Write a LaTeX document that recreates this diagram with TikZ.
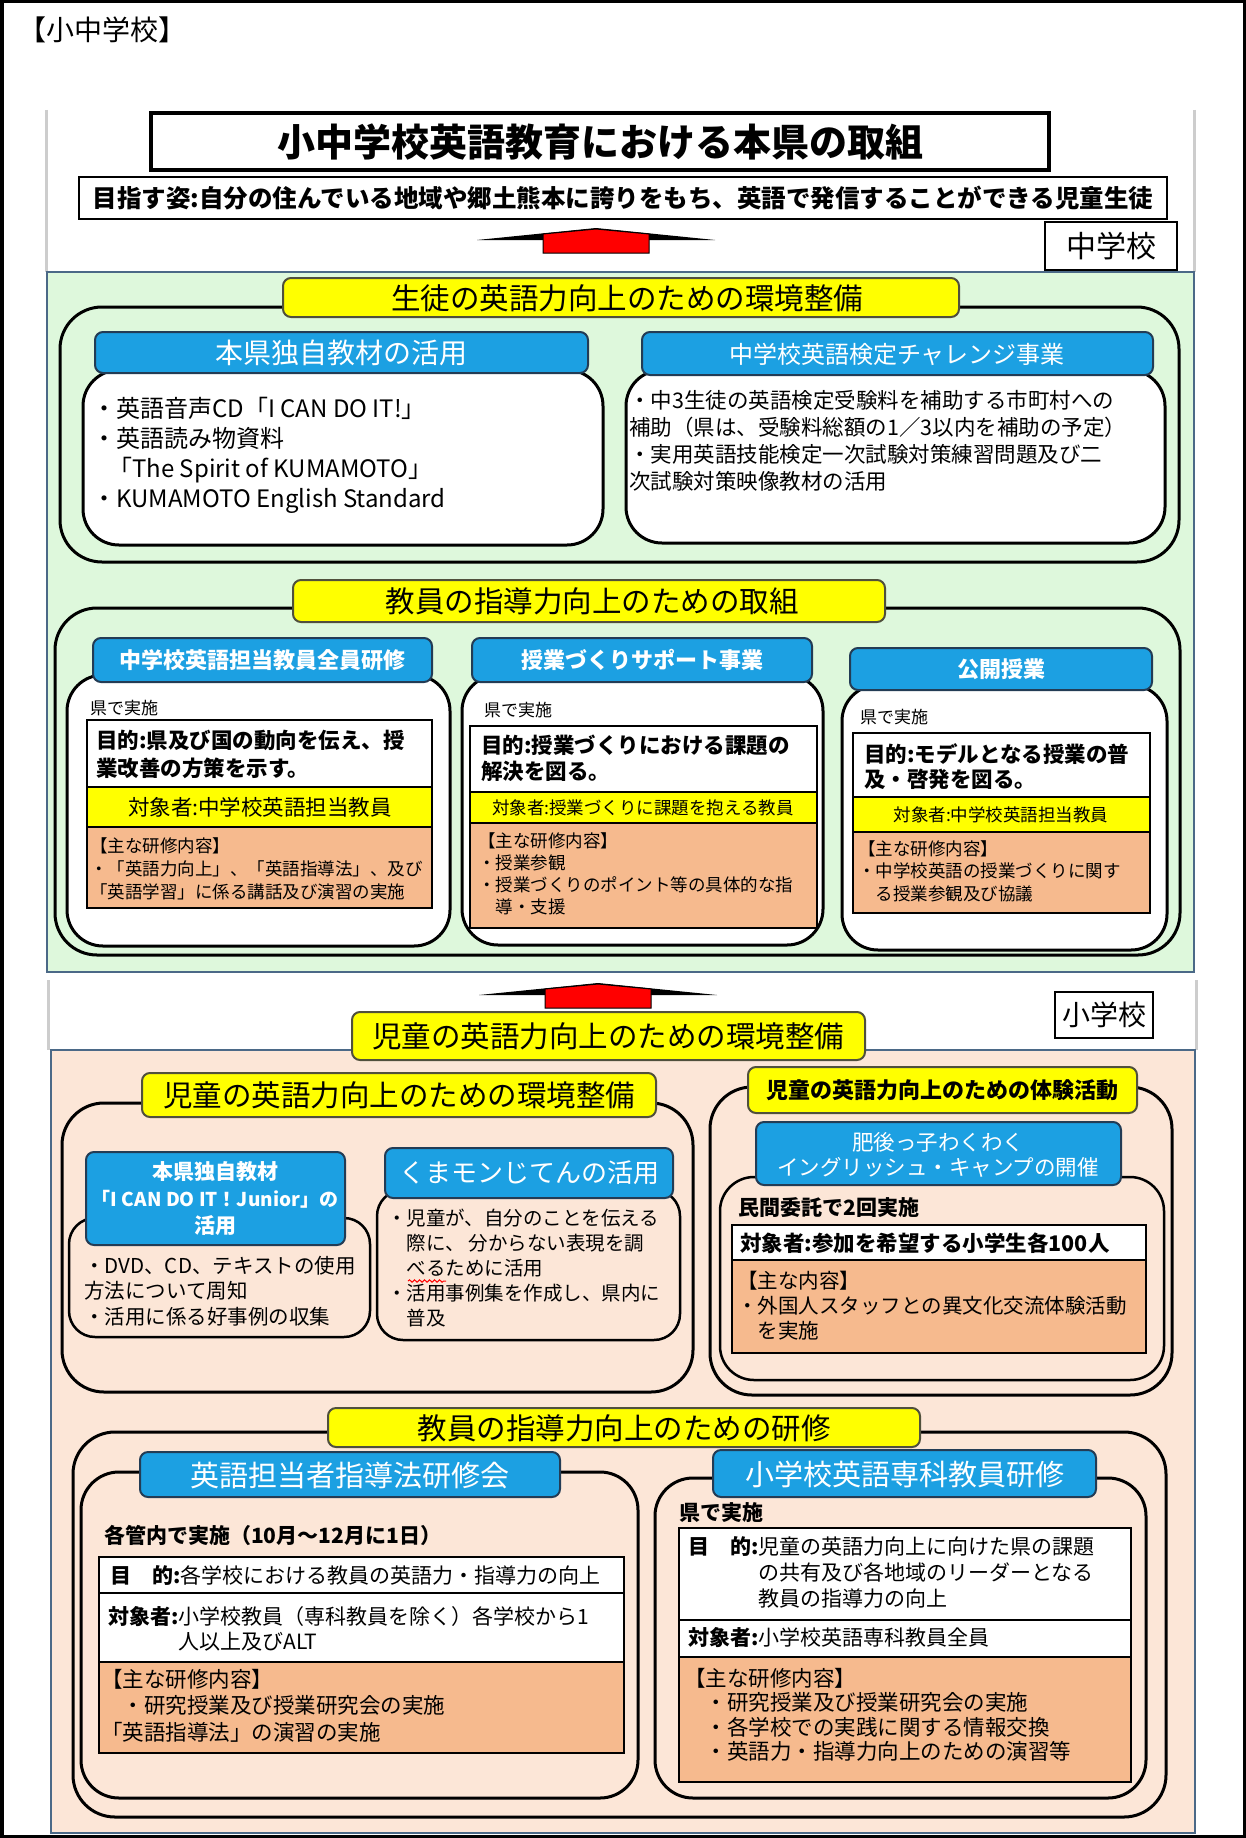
\documentclass[tikz,border=0pt]{standalone}
\usepackage{fontspec}
\setmainfont{Noto Sans CJK JP}
\usetikzlibrary{decorations.pathmorphing}

\definecolor{cTab}{RGB}{28,160,226}
\definecolor{cTabEdge}{RGB}{35,60,85}
\definecolor{cYel}{RGB}{255,255,0}
\definecolor{cYelEdge}{RGB}{80,80,60}
\definecolor{cGreen}{RGB}{222,248,220}
\definecolor{cPeach}{RGB}{252,230,215}
\definecolor{cSalmon}{RGB}{246,186,142}
\definecolor{cZone}{RGB}{75,105,135}
\definecolor{cGray}{RGB}{205,205,205}

\newcommand{\fsz}[2]{\fontsize{#1}{#2}\selectfont}

\tikzset{
  zone/.style={draw=cZone, line width=2.5pt},
  ring/.style={draw=black, line width=3pt, rounded corners=42pt},
  panel/.style={draw=black, line width=3pt, rounded corners=36pt, fill=white},
  subbox/.style={draw=black, line width=2.5pt, rounded corners=26pt},
  bluetab/.style={draw=cTabEdge, fill=cTab, line width=2pt, rounded corners=8pt},
  yhead/.style={draw=cYelEdge, fill=cYel, line width=2pt, rounded corners=8pt},
  whitebox/.style={draw=black, line width=2.5pt, fill=white},
  target/.style={draw=black, line width=2.5pt, fill=cYel},
  detail/.style={draw=black, line width=2pt, fill=cSalmon},
  txt/.style={inner sep=0pt, align=left},
  tabtxt/.style={inner sep=0pt, text=white, align=center},
  redup/.pic={
    \path[fill=black] (-119,12) -- (0,0) -- (119,12) -- cycle;
    \path[draw=black, line width=1pt, fill=red] (-53,25) -- (-53,6) -- (0,1) -- (53,6) -- (53,25) -- cycle;
  }
}

\begin{document}
\begin{tikzpicture}[x=1pt,y=-1pt]
\useasboundingbox (0,0) rectangle (1246,1838);
\path[fill=white] (0,0) rectangle (1246,1838);

% top
\node[txt, anchor=west, font={\fsz{28}{32}}] (cap) at (18,30) {【小中学校】};
\path[draw=cGray, line width=3pt] (46,110) -- (46,272);
\path[draw=cGray, line width=3pt] (1194,110) -- (1194,272);
\path[draw=black, line width=3.5pt, fill=white] (151,113) rectangle (1049,170);
\node[txt, font={\fsz{38}{44}\bfseries}] (title) at (600,142) {小中学校英語教育における本県の取組};
\path[draw=black, line width=2.5pt, fill=white] (79,177) rectangle (1167,219);
\node[txt, font={\fsz{24.5}{30}\bfseries}] (goal) at (623,198) {目指す姿:自分の住んでいる地域や郷土熊本に誇りをもち、英語で発信することができる児童生徒};
\pic at (596,228) {redup};

% junior high
\path[zone, fill=cGreen] (47,272) rectangle (1194,972);
\path[draw=black, line width=2pt, fill=white] (1045,222) rectangle (1177,270);
\node[txt, font={\fsz{30}{36}}] (jhs) at (1111,246) {中学校};

\path[ring] (60,307) rectangle (1179,562);
\path[yhead] (283,278) rectangle (959,317);
\node[txt, font={\fsz{29.5}{35}}] (h1) at (627,298) {生徒の英語力向上のための環境整備};

\path[panel] (83,370) rectangle (603,545);
\path[bluetab] (95,332) rectangle (588,373);
\node[tabtxt, font={\fsz{28}{34}}] (t1) at (341,353) {本県独自教材の活用};
\node[txt, anchor=north west, font={\fsz{24}{30}}] (b1) at (92,397) {・英語音声CD「I CAN DO IT!」\\・英語読み物資料\\\hspace*{16pt}「The Spirit of KUMAMOTO」\\・KUMAMOTO English Standard};

\path[panel] (626,370) rectangle (1165,543);
\path[bluetab] (642,332) rectangle (1153,375);
\node[tabtxt, font={\fsz{24}{30}}] (t2) at (897,354) {中学校英語検定チャレンジ事業};
\node[txt, anchor=north west, font={\fsz{21.5}{27}}] (b2) at (629,390) {・中3生徒の英語検定受験料を補助する市町村への\\補助（県は、受験料総額の1／3以内を補助の予定）\\・実用英語技能検定一次試験対策練習問題及び二\\次試験対策映像教材の活用};

\path[ring] (55,608) rectangle (1180,955);
\path[yhead] (293,580) rectangle (885,622);
\node[txt, font={\fsz{29.5}{35}}] (h2) at (592,601) {教員の指導力向上のための取組};

% box A
\path[panel] (67,675) rectangle (450,946);
\path[bluetab] (93,638) rectangle (432,682);
\node[tabtxt, font={\fsz{22}{26}\bfseries}] (tA) at (262,660) {中学校英語担当教員全員研修};
\node[txt, anchor=west, font={\fsz{17}{20}}] (pA) at (90,708) {県で実施};
\path[whitebox] (87,720) rectangle (432,787);
\node[txt, anchor=north west, font={\fsz{21.5}{28}\bfseries}] (aA) at (96,730) {目的:県及び国の動向を伝え、授\\業改善の方策を示す。};
\path[target] (87,787) rectangle (432,827);
\node[txt, font={\fsz{21.5}{26}}] (gA) at (260,807) {対象者:中学校英語担当教員};
\path[detail] (87,827) rectangle (432,908);
\node[txt, anchor=north west, font={\fsz{17.5}{23}}] (cA) at (90,837) {【主な研修内容】\\・「英語力向上」、「英語指導法」、及び\\「英語学習」に係る講話及び演習の実施};

% box B
\path[panel] (462,675) rectangle (823,945);
\path[bluetab] (472,638) rectangle (812,682);
\node[tabtxt, font={\fsz{22}{26}\bfseries}] (tB) at (642,660) {授業づくりサポート事業};
\node[txt, anchor=west, font={\fsz{17}{20}}] (pB) at (484,710) {県で実施};
\path[whitebox] (470,726) rectangle (817,792);
\node[txt, anchor=north west, font={\fsz{21.5}{26}\bfseries}] (aB) at (481,735) {目的:授業づくりにおける課題の\\解決を図る。};
\path[target] (470,792) rectangle (817,823);
\node[txt, font={\fsz{17.5}{22}}] (gB) at (643,808) {対象者:授業づくりに課題を抱える教員};
\path[detail] (470,823) rectangle (817,928);
\node[txt, anchor=north west, font={\fsz{17.5}{22}}] (cB) at (478,832) {【主な研修内容】\\・授業参観\\・授業づくりのポイント等の具体的な指\\　導・支援};

% box C
\path[panel] (842,685) rectangle (1167,950);
\path[bluetab] (850,648) rectangle (1152,690);
\node[tabtxt, font={\fsz{22}{26}\bfseries}] (tC) at (1001,669) {公開授業};
\node[txt, anchor=west, font={\fsz{17}{20}}] (pC) at (860,717) {県で実施};
\path[whitebox] (853,733) rectangle (1150,797);
\node[txt, anchor=north west, font={\fsz{21.5}{25}\bfseries}] (aC) at (864,743) {目的:モデルとなる授業の普\\及・啓発を図る。};
\path[target] (853,797) rectangle (1150,832);
\node[txt, font={\fsz{17.5}{22}}] (gC) at (1001,815) {対象者:中学校英語担当教員};
\path[detail] (853,832) rectangle (1150,913);
\node[txt, anchor=north west, font={\fsz{17.5}{22.5}}] (cC) at (858,840) {【主な研修内容】\\・中学校英語の授業づくりに関す\\　る授業参観及び協議};

% elementary
\path[draw=cGray, line width=3pt] (48,980) -- (48,1050);
\path[draw=cGray, line width=3pt] (1196,980) -- (1196,1050);
\pic at (598,983) {redup};
\path[zone, fill=cPeach] (51,1050) rectangle (1195,1833);
\path[draw=black, line width=2pt, fill=white] (1055,992) rectangle (1153,1038);
\node[txt, font={\fsz{28}{34}}] (ehs) at (1104,1015) {小学校};
\path[yhead] (352,1012) rectangle (865,1060);
\node[txt, font={\fsz{29.5}{35}}] (h3) at (608,1036) {児童の英語力向上のための環境整備};

\path[ring] (62,1103) rectangle (693,1392);
\path[yhead] (142,1073) rectangle (656,1117);
\node[txt, font={\fsz{29.5}{35}}] (h4) at (399,1095) {児童の英語力向上のための環境整備};

\path[ring] (710,1087) rectangle (1172,1395);
\path[yhead] (748,1067) rectangle (1137,1113);
\node[txt, font={\fsz{22}{26}\bfseries}] (h5) at (942,1090) {児童の英語力向上のための体験活動};

\path[subbox] (69,1218) rectangle (370,1337);
\path[bluetab] (86,1152) rectangle (345,1245);
\node[tabtxt, font={\fsz{21}{27}\bfseries}] (t4) at (215,1199) {本県独自教材\\{\fsz{19}{27}「I CAN DO IT！Junior」の}\\活用};
\node[txt, anchor=north west, font={\fsz{20.5}{25.5}}] (b4) at (84,1256) {・DVD、CD、テキストの使用\\方法について周知\\・活用に係る好事例の収集};

\path[subbox] (377,1190) rectangle (680,1340);
\path[bluetab] (385,1148) rectangle (673,1198);
\node[tabtxt, font={\fsz{26}{30}}] (t5) at (529,1173) {くまモンじてんの活用};
\node[txt, anchor=north west, font={\fsz{19.5}{25}}] (b5) at (387,1209) {・児童が、自分のことを伝える\\　際に、 分からない表現を調\\　べるために活用\\・活用事例集を作成し、県内に\\　普及};
\path[draw=red, line width=1pt, decorate, decoration={snake, amplitude=1.2pt, segment length=5pt}] (408,1281) -- (446,1281);

\path[subbox, rounded corners=34pt] (720,1177) rectangle (1164,1380);
\path[bluetab] (756,1122) rectangle (1121,1185);
\node[tabtxt, font={\fsz{21.5}{25}}] (t6) at (938,1155) {肥後っ子わくわく\\イングリッシュ・キャンプの開催};
\node[txt, anchor=west, font={\fsz{21}{25}\bfseries}] (p6) at (738,1208) {民間委託で2回実施};
\path[whitebox, line width=2pt] (732,1225) rectangle (1146,1260);
\node[txt, anchor=west, font={\fsz{21.5}{26}\bfseries}] (g6) at (740,1243) {対象者:参加を希望する小学生各100人};
\path[detail] (732,1260) rectangle (1146,1353);
\node[txt, anchor=north west, font={\fsz{20.5}{25}}] (c6) at (737,1271) {【主な内容】\\・外国人スタッフとの異文化交流体験活動\\　を実施};

% training
\path[ring] (73,1432) rectangle (1166,1817);
\path[yhead] (328,1408) rectangle (920,1447);
\node[txt, font={\fsz{29.5}{35}}] (h6) at (624,1428) {教員の指導力向上のための研修};

\path[ring, rounded corners=38pt] (81,1472) rectangle (638,1798);
\path[bluetab] (140,1452) rectangle (560,1497);
\node[tabtxt, font={\fsz{29}{34}}] (t7) at (350,1475) {英語担当者指導法研修会};
\node[txt, anchor=west, font={\fsz{21}{25}\bfseries}] (p7) at (104,1535) {各管内で実施（10月～12月に1日）};
\path[whitebox] (99,1557) rectangle (624,1593);
\node[txt, anchor=west, font={\fsz{21}{25}}] (a7) at (110,1575) {\textbf{目　的:}各学校における教員の英語力・指導力の向上};
\path[whitebox] (99,1593) rectangle (624,1662);
\node[txt, anchor=north west, font={\fsz{21}{25}}] (g7) at (108,1606) {\textbf{対象者:}小学校教員（専科教員を除く）各学校から1\\\hphantom{\textbf{対象者:}}人以上及びALT};
\path[detail] (99,1662) rectangle (624,1753);
\node[txt, anchor=north west, font={\fsz{21.5}{26.5}}] (c7) at (101,1669) {【主な研修内容】\\　・研究授業及び授業研究会の実施\\「英語指導法」の演習の実施};

\path[ring, rounded corners=38pt] (655,1478) rectangle (1146,1798);
\path[bluetab] (713,1450) rectangle (1096,1497);
\node[tabtxt, font={\fsz{29}{34}}] (t8) at (905,1474) {小学校英語専科教員研修};
\node[txt, anchor=west, font={\fsz{21}{25}\bfseries}] (p8) at (679,1513) {県で実施};
\path[whitebox] (679,1528) rectangle (1131,1620);
\node[txt, anchor=north west, font={\fsz{21}{26}}] (a8) at (688,1536) {\textbf{目　的:}児童の英語力向上に向けた県の課題\\\hphantom{\textbf{目　的:}}の共有及び各地域のリーダーとなる\\\hphantom{\textbf{目　的:}}教員の指導力の向上};
\path[whitebox] (679,1620) rectangle (1131,1657);
\node[txt, anchor=west, font={\fsz{21}{25}}] (g8) at (688,1638) {\textbf{対象者:}小学校英語専科教員全員};
\path[detail] (679,1657) rectangle (1131,1782);
\node[txt, anchor=north west, font={\fsz{21.5}{24.5}}] (c8) at (684,1668) {【主な研修内容】\\　・研究授業及び授業研究会の実施\\　・各学校での実践に関する情報交換\\　・英語力・指導力向上のための演習等};

\path[draw=black, line width=3.5pt] (1.75,1.75) rectangle (1244.25,1836.25);
\end{tikzpicture}
\end{document}
